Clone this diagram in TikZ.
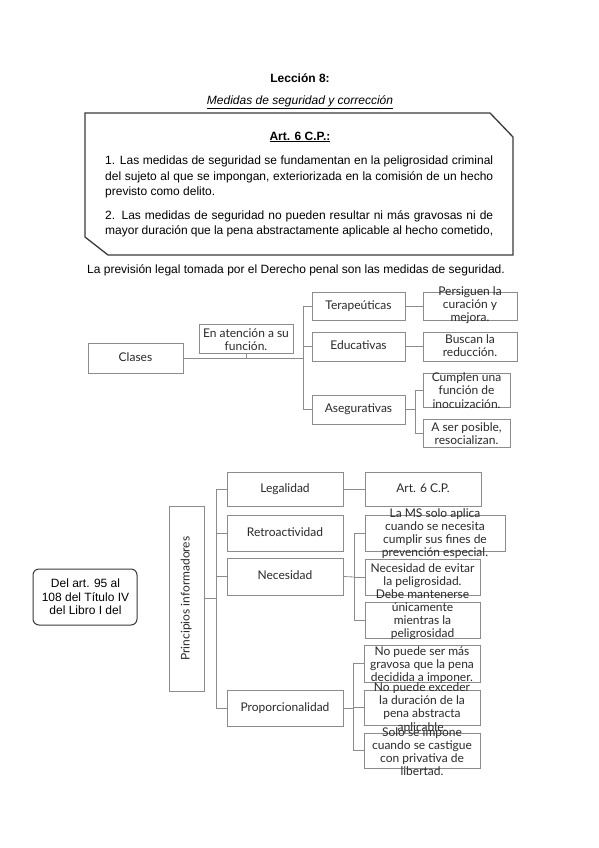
\documentclass[tikz,border=0pt]{standalone}
\usepackage{fontspec}
\setmainfont{Liberation Sans}
\newfontfamily\smartfont{Lato}
\definecolor{linegray}{HTML}{8C8C8C}
\definecolor{darkframe}{HTML}{3A3A3A}
\definecolor{txtgray}{HTML}{2A2A2A}
\tikzset{
  box/.style={draw=linegray, line width=0.8pt, rectangle, inner sep=0pt},
  stxt/.style={font=\smartfont\fontsize{12}{13.2}\selectfont, text=txtgray, align=center, inner sep=0pt},
  stxtone/.style={stxt, text height=6.1pt, text depth=0pt},
  conn/.style={draw=linegray, line width=0.8pt},
  arial/.style={font=\fontsize{12}{15.8}\selectfont, inner sep=0pt},
}
\newcommand{\jline}[1]{\makebox[388pt][s]{#1}}
\begin{document}
\begin{tikzpicture}[x=1pt,y=-1pt]
\useasboundingbox (0,0) rectangle (599,848);
\fill[white] (0,0) rectangle (599,848);

% ---- header ----
\node[arial, font=\bfseries\fontsize{12}{14}\selectfont] (title) at (300,78) {Lección 8:};
\node[arial, font=\itshape\fontsize{12}{14}\selectfont] (subtitle) at (300,102) {\underline{Medidas de seguridad y corrección}};

% ---- article frame ----
\draw[darkframe, line width=1.3pt] (85,113) -- (490,113) -- (513,137) -- (513,255) -- (108,255) -- (85,237) -- cycle;
\node[arial, font=\bfseries\fontsize{12}{14}\selectfont] (arttitle) at (300,137) {\underline{Art. 6 C.P.:}};
\node[arial, anchor=north west, align=left] (artp1) at (105,155.5) {%
\jline{1. Las medidas de seguridad se fundamentan en la peligrosidad criminal}\\
\jline{del sujeto al que se impongan, exteriorizada en la comisión de un hecho}\\
previsto como delito.};
\node[arial, anchor=north west, align=left] (artp2) at (105,210) {%
\jline{2. Las medidas de seguridad no pueden resultar ni más gravosas ni de}\\
\jline{mayor duración que la pena abstractamente aplicable al hecho cometido,}};

\node[arial, anchor=west] (caption) at (87,270) {La previsión legal tomada por el Derecho penal son las medidas de seguridad.};

% ---- Clases diagram ----
\node[box, minimum width=95pt, minimum height=30pt] (clases) at (135.5,358) {};
\node[stxtone] (clases-t) at (clases.center) {Clases};
\node[box, minimum width=94pt, minimum height=29pt] (func) at (246,338.5) {};
\node[stxt] (func-t) at (246,340) {En atención a su\\función.};
\node[box, minimum width=93pt, minimum height=28pt] (tera) at (358.5,306) {};
\node[stxtone] (tera-t) at (tera.center) {Terapeúticas};
\node[box, minimum width=93pt, minimum height=29pt] (edu) at (358.5,346.5) {};
\node[stxtone] (edu-t) at (edu.center) {Educativas};
\node[box, minimum width=93pt, minimum height=29pt] (asg) at (358.5,409.5) {};
\node[stxtone] (asg-t) at (asg.center) {Asegurativas};
\node[box, minimum width=94pt, minimum height=28pt] (persig) at (470,306) {};
\node[stxt] (persig-t) at (470,305) {Persiguen la\\curación y\\mejora.};
\node[box, minimum width=94pt, minimum height=29pt] (buscan) at (470,346.5) {};
\node[stxt] (buscan-t) at (470,346) {Buscan la\\reducción.};
\node[box, minimum width=87pt, minimum height=34pt] (cumplen) at (466.5,390) {};
\node[stxt] (cumplen-t) at (466.5,390.5) {Cumplen una\\función de\\inocuización.};
\node[box, minimum width=87pt, minimum height=28pt] (aser) at (466.5,433) {};
\node[stxt] (aser-t) at (466.5,434) {A ser posible,\\resocializan.};

\coordinate (spine1) at (303,358);
\draw[conn] (clases.east) -- (spine1);
\draw[conn] (func.south) -- (func.south |- spine1);
\draw[conn] (tera.west) -| (spine1);
\draw[conn] (asg.west) -| (spine1);
\draw[conn] (edu.west) -- (edu.west -| spine1);
\draw[conn] (tera.east) -- (persig.west);
\draw[conn] (edu.east) -- (buscan.west);
\coordinate (spine2) at (415,409.5);
\draw[conn] (asg.east) -- (spine2);
\draw[conn] (cumplen.west) -| (spine2);
\draw[conn] (aser.west) -| (spine2);

% ---- Principios diagram ----
\node[draw=darkframe, line width=1pt, rounded corners=6pt, minimum width=104pt, minimum height=56pt, inner sep=0pt] (delart) at (85,597) {};
\node[font=\fontsize{12}{13.5}\selectfont, align=center, inner sep=0pt] (delart-t) at (85.5,597) {Del art. 95 al\\108 del Título IV\\del Libro I del};

\node[box, minimum width=35pt, minimum height=185pt] (princ) at (186.5,598.5) {};
\node[stxtone, rotate=90] (princ-t) at (princ.center) {Principios informadores};

\node[box, minimum width=116pt, minimum height=34pt] (legal) at (285,489) {};
\node[stxtone] (legal-t) at (legal.center) {Legalidad};
\node[box, minimum width=116pt, minimum height=36pt] (retro) at (285,533) {};
\node[stxtone] (retro-t) at (retro.center) {Retroactividad};
\node[box, minimum width=116pt, minimum height=37pt] (nec) at (285,576.5) {};
\node[stxtone] (nec-t) at (nec.center) {Necesidad};
\node[box, minimum width=116pt, minimum height=36pt] (prop) at (285,708) {};
\node[stxtone] (prop-t) at (prop.center) {Proporcionalidad};

\node[box, minimum width=116pt, minimum height=34pt] (art6) at (423,489) {};
\node[stxtone] (art6-t) at (art6.center) {Art. 6 C.P.};
\node[box, minimum width=140pt, minimum height=36pt] (lams) at (435,533) {};
\node[stxt] (lams-t) at (435,533.5) {La MS solo aplica\\cuando se necesita\\cumplir sus fines de\\prevención especial.};
\node[box, minimum width=115pt, minimum height=36pt] (necev) at (422.5,577) {};
\node[stxt] (necev-t) at (422.5,576) {Necesidad de evitar\\la peligrosidad.};
\node[box, minimum width=115pt, minimum height=36pt] (debe) at (422.5,620) {};
\node[stxt] (debe-t) at (422.5,614.5) {Debe mantenerse\\únicamente\\mientras la\\peligrosidad};
\node[box, minimum width=116pt, minimum height=37pt] (nopsm) at (422,663.5) {};
\node[stxt] (nopsm-t) at (422,665) {No puede ser más\\gravosa que la pena\\decidida a imponer.};
\node[box, minimum width=116pt, minimum height=35pt] (noexc) at (422,707.5) {};
\node[stxt] (noexc-t) at (422,708) {No puede exceder\\la duración de la\\pena abstracta\\aplicable.};
\node[box, minimum width=116pt, minimum height=35pt] (solo) at (422,750.5) {};
\node[stxt] (solo-t) at (422,751.5) {Solo se impone\\cuando se castigue\\con privativa de\\libertad.};

\coordinate (spine3) at (216,598.5);
\draw[conn] (princ.east) -- (spine3);
\draw[conn] (legal.west) -| (spine3);
\draw[conn] (prop.west) -| (spine3);
\draw[conn] (retro.west) -- (retro.west -| spine3);
\draw[conn] (nec.west) -- (nec.west -| spine3);
\draw[conn] (legal.east) -- (art6.west);
\coordinate (spine4) at (354,577);
\draw[conn] (nec.east) -- (spine4);
\draw[conn] (lams.west) -| (spine4);
\draw[conn] (debe.west) -| (spine4);
\draw[conn] (necev.west) -- (necev.west -| spine4);
\coordinate (spine5) at (353,708);
\draw[conn] (prop.east) -- (spine5);
\draw[conn] (nopsm.west) -| (spine5);
\draw[conn] (solo.west) -| (spine5);
\draw[conn] (noexc.west) -- (noexc.west -| spine5);
\end{tikzpicture}
\end{document}
